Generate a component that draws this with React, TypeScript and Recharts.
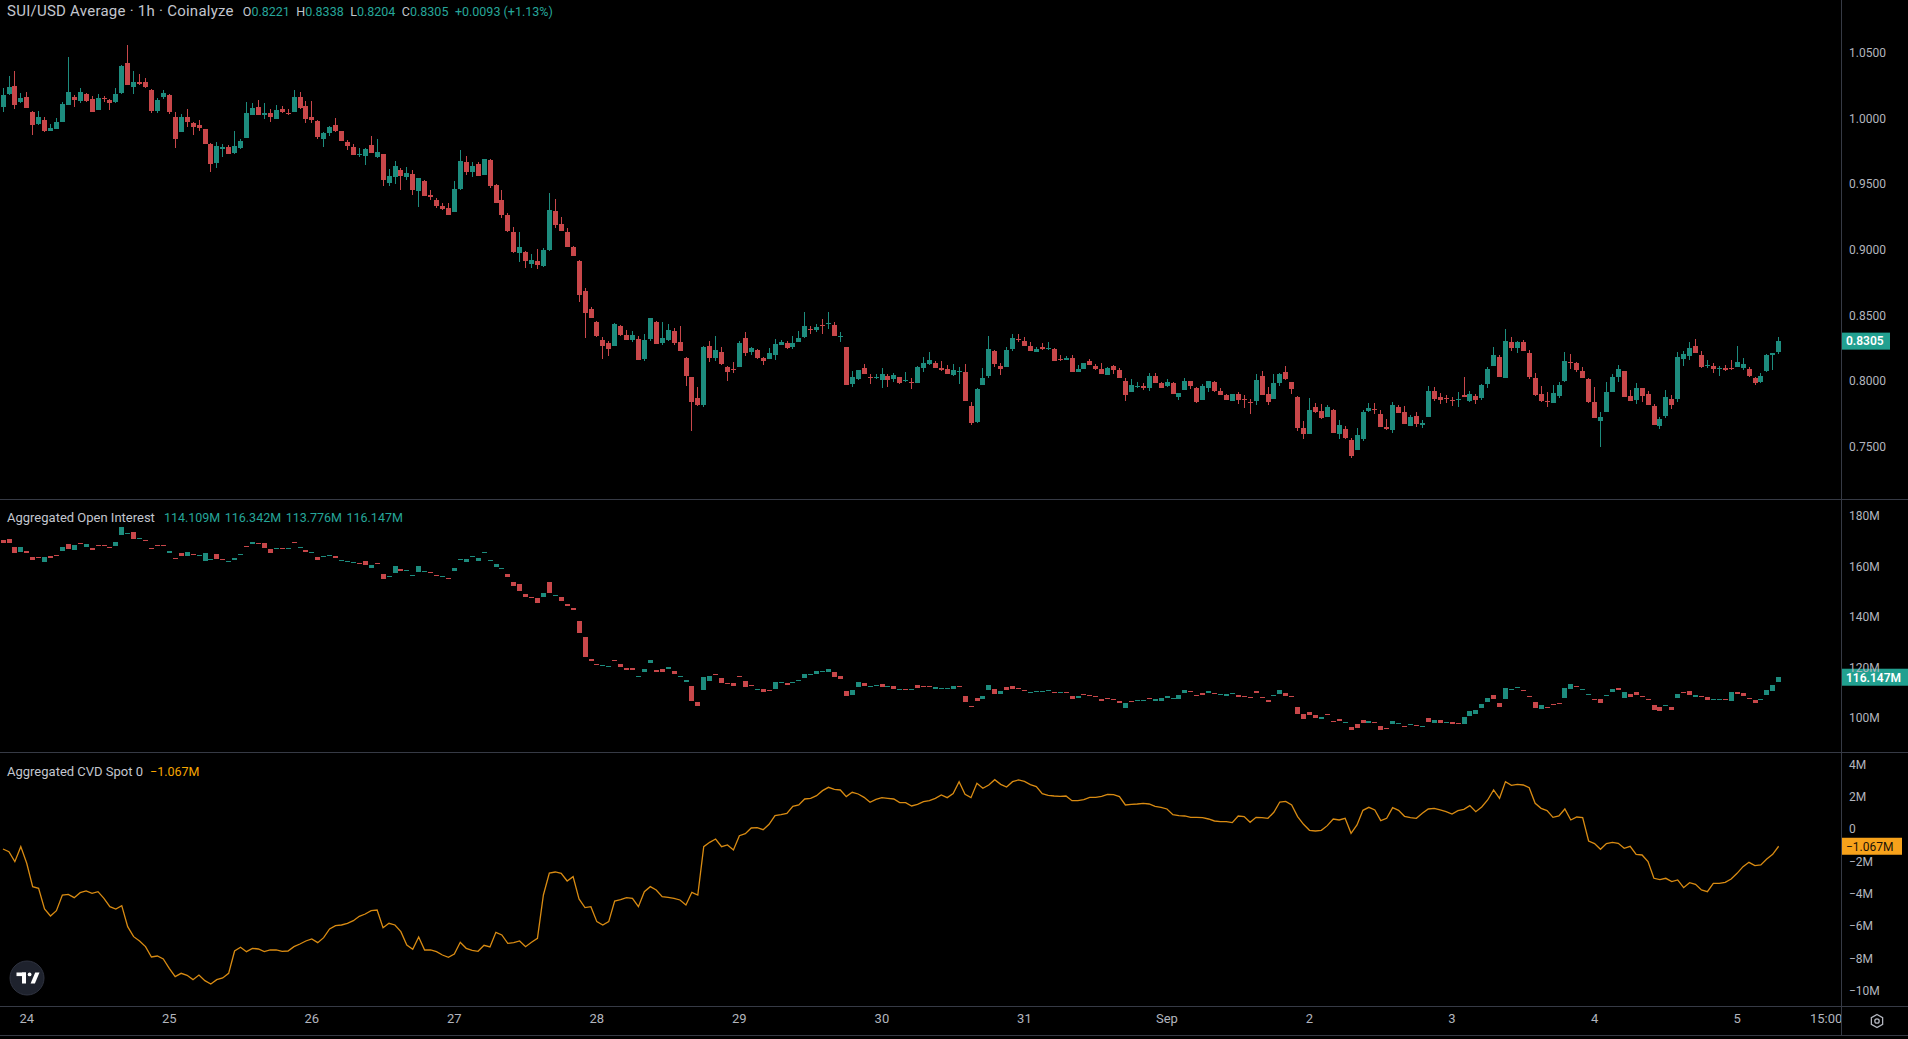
import React from 'react';
import { ComposedChart, Bar, Line, XAxis, YAxis, ReferenceLine } from 'recharts';

// ---------- data (hourly, starting Aug 23 2024 20:00 UTC) ----------
const priceOpen = [
  1.0088,1.0184,1.0245,1.0123,1.0161,1.0047,0.9958,0.9986,0.9905,0.9920,
  0.9973,1.0103,1.0164,1.0133,1.0184,1.0146,1.0065,1.0156,1.0138,1.0126,
  1.0194,1.0420,1.0240,1.0275,1.0275,1.0214,1.0057,1.0164,1.0176,1.0009,
  0.9897,1.0009,0.9963,0.9948,0.9918,0.9803,0.9659,0.9768,0.9781,0.9737,
  0.9776,0.9852,1.0027,1.0085,1.0027,1.0039,0.9996,1.0070,1.0042,1.0050,
  1.0161,1.0093,1.0009,0.9981,0.9844,0.9887,0.9946,0.9902,0.9819,0.9781,
  0.9722,0.9715,0.9796,0.9707,0.9727,0.9509,0.9552,0.9606,0.9555,0.9575,
  0.9446,0.9522,0.9413,0.9377,0.9332,0.9321,0.9288,0.9461,0.9666,0.9593,
  0.9651,0.9570,0.9682,0.9491,0.9377,0.9263,0.9134,0.8976,0.8981,0.8893,
  0.8913,0.8875,0.8997,0.9294,0.9195,0.9134,0.9020,0.8913,0.8685,0.8548,
  0.8451,0.8312,0.8289,0.8269,0.8418,0.8350,0.8314,0.8319,0.8167,0.8322,
  0.8449,0.8289,0.8314,0.8380,0.8299,0.8175,0.8030,0.7870,0.7820,0.8266,
  0.8177,0.8220,0.8106,0.8093,0.8109,0.8327,0.8223,0.8236,0.8175,0.8167,
  0.8200,0.8276,0.8289,0.8258,0.8299,0.8337,0.8401,0.8390,0.8426,0.8434,
  0.8426,0.8337,0.8258,0.7980,0.8017,0.8099,0.8030,0.8022,0.8010,0.8038,
  0.8017,0.8030,0.8002,0.7995,0.7987,0.8104,0.8129,0.8137,0.8099,0.8091,
  0.8048,0.8068,0.8068,0.7809,0.7690,0.7972,0.8040,0.8228,0.8114,0.8109,
  0.8246,0.8319,0.8304,0.8266,0.8223,0.8258,0.8243,0.8243,0.8167,0.8159,
  0.8175,0.8071,0.8093,0.8152,0.8114,0.8091,0.8048,0.8114,0.8083,0.8000,
  0.7918,0.7954,0.7962,0.7949,0.8038,0.7984,0.7964,0.7984,0.7880,0.7934,
  0.8000,0.7949,0.7857,0.7949,0.7992,0.7926,0.7895,0.7850,0.7901,0.7865,
  0.7845,0.7850,0.8038,0.7901,0.7865,0.7987,0.8068,0.7992,0.7878,0.7644,
  0.7599,0.7802,0.7771,0.7728,0.7779,0.7599,0.7637,0.7551,0.7477,0.7561,
  0.7771,0.7786,0.7749,0.7652,0.7629,0.7802,0.7764,0.7660,0.7733,0.7667,
  0.7728,0.7923,0.7878,0.7873,0.7857,0.7857,0.7895,0.7847,0.7885,0.7873,
  0.7980,0.8116,0.8182,0.8025,0.8299,0.8253,0.8299,0.8213,0.8022,0.7901,
  0.7850,0.7835,0.7888,0.8002,0.8144,0.8137,0.8076,0.8015,0.7840,0.7698,
  0.7766,0.7918,0.8033,0.8076,0.7885,0.7857,0.7946,0.7901,0.7809,0.7660,
  0.7736,0.7863,0.7865,0.8169,0.8192,0.8266,0.8197,0.8114,0.8114,0.8093,
  0.8099,0.8099,0.8109,0.8101,0.8091,0.8022,0.7995,0.8078,0.8200,0.8221,
];
const priceHigh = [
  1.0227,1.0321,1.0357,1.0189,1.0199,1.0055,1.0055,1.0006,0.9956,0.9999,
  1.0123,1.0466,1.0176,1.0230,1.0194,1.0169,1.0181,1.0171,1.0146,1.0230,
  1.0407,1.0557,1.0359,1.0336,1.0306,1.0222,1.0154,1.0212,1.0181,1.0045,
  1.0032,1.0070,0.9973,0.9986,0.9918,0.9809,0.9819,0.9803,0.9793,0.9902,
  0.9842,1.0123,1.0113,1.0138,1.0116,1.0067,1.0100,1.0093,1.0072,1.0214,
  1.0199,1.0131,1.0131,0.9989,0.9892,0.9940,0.9999,0.9902,0.9831,0.9803,
  0.9771,0.9776,0.9862,0.9842,0.9732,0.9613,0.9674,0.9621,0.9628,0.9606,
  0.9545,0.9529,0.9453,0.9390,0.9352,0.9352,0.9522,0.9758,0.9712,0.9666,
  0.9666,0.9689,0.9689,0.9499,0.9453,0.9278,0.9172,0.9134,0.8989,0.8969,
  0.9004,0.9012,0.9430,0.9385,0.9248,0.9164,0.9030,0.8923,0.8708,0.8565,
  0.8456,0.8334,0.8304,0.8446,0.8426,0.8388,0.8380,0.8342,0.8357,0.8479,
  0.8457,0.8449,0.8434,0.8403,0.8418,0.8182,0.8030,0.7954,0.8266,0.8304,
  0.8342,0.8258,0.8114,0.8144,0.8304,0.8372,0.8258,0.8243,0.8182,0.8251,
  0.8319,0.8312,0.8304,0.8342,0.8380,0.8525,0.8418,0.8434,0.8472,0.8525,
  0.8449,0.8372,0.8258,0.8076,0.8083,0.8129,0.8053,0.8053,0.8099,0.8053,
  0.8060,0.8030,0.8068,0.8025,0.8114,0.8182,0.8220,0.8152,0.8152,0.8121,
  0.8129,0.8106,0.8129,0.7840,0.7946,0.8099,0.8342,0.8236,0.8137,0.8258,
  0.8357,0.8357,0.8334,0.8299,0.8258,0.8289,0.8299,0.8251,0.8197,0.8190,
  0.8197,0.8121,0.8137,0.8167,0.8129,0.8137,0.8106,0.8121,0.8099,0.8022,
  0.8015,0.7992,0.7984,0.8060,0.8060,0.7992,0.8015,0.7992,0.7908,0.8022,
  0.8000,0.7957,0.7977,0.8000,0.8000,0.7946,0.7903,0.7901,0.7916,0.7895,
  0.7865,0.8053,0.8076,0.7954,0.8053,0.8060,0.8114,0.7992,0.7885,0.7695,
  0.7870,0.7832,0.7825,0.7817,0.7786,0.7703,0.7660,0.7566,0.7644,0.7779,
  0.7832,0.7832,0.7779,0.7710,0.7840,0.7817,0.7809,0.7741,0.7764,0.7703,
  0.7962,0.7954,0.7908,0.7893,0.7878,0.7916,0.8030,0.7923,0.7901,0.7977,
  0.8106,0.8258,0.8197,0.8396,0.8334,0.8304,0.8312,0.8236,0.8060,0.7962,
  0.7916,0.7969,0.7992,0.8220,0.8205,0.8144,0.8106,0.8022,0.7954,0.7764,
  0.7992,0.8053,0.8121,0.8076,0.7931,0.7984,0.7946,0.7923,0.7825,0.7726,
  0.7931,0.7893,0.8220,0.8228,0.8299,0.8319,0.8228,0.8159,0.8137,0.8114,
  0.8121,0.8159,0.8266,0.8175,0.8106,0.8030,0.8060,0.8205,0.8213,0.8338,
];
const priceLow = [
  1.0050,1.0176,1.0070,1.0118,1.0077,0.9872,0.9948,0.9897,0.9905,0.9920,
  0.9971,1.0103,1.0088,1.0118,1.0123,1.0050,1.0065,1.0123,1.0065,1.0113,
  1.0187,1.0252,1.0187,1.0255,1.0232,1.0042,1.0042,1.0148,1.0034,0.9776,
  0.9897,0.9930,0.9874,0.9905,0.9801,0.9593,0.9623,0.9707,0.9725,0.9732,
  0.9768,0.9852,1.0027,1.0027,0.9996,0.9973,0.9996,1.0042,1.0022,1.0045,
  1.0072,0.9961,0.9961,0.9844,0.9783,0.9864,0.9897,0.9829,0.9760,0.9722,
  0.9707,0.9646,0.9737,0.9699,0.9484,0.9484,0.9502,0.9453,0.9527,0.9415,
  0.9327,0.9410,0.9377,0.9319,0.9301,0.9266,0.9288,0.9456,0.9568,0.9555,
  0.9562,0.9570,0.9471,0.9357,0.9243,0.9134,0.8976,0.8908,0.8860,0.8862,
  0.8855,0.8870,0.8989,0.9167,0.9144,0.9022,0.8956,0.8604,0.8330,0.8482,
  0.8337,0.8167,0.8190,0.8269,0.8342,0.8314,0.8299,0.8162,0.8154,0.8307,
  0.8284,0.8276,0.8307,0.8276,0.8233,0.7964,0.7621,0.7812,0.7804,0.8147,
  0.8154,0.8121,0.8002,0.8063,0.8109,0.8192,0.8200,0.8169,0.8124,0.8167,
  0.8162,0.8276,0.8246,0.8246,0.8299,0.8330,0.8360,0.8375,0.8360,0.8396,
  0.8345,0.8299,0.7972,0.7957,0.8010,0.8055,0.7980,0.8017,0.7949,0.7957,
  0.7995,0.7980,0.7995,0.7941,0.7987,0.8071,0.8121,0.8104,0.8076,0.8055,
  0.8040,0.7980,0.7850,0.7667,0.7682,0.7972,0.8025,0.8109,0.8048,0.8109,
  0.8231,0.8299,0.8269,0.8231,0.8223,0.8238,0.8238,0.8154,0.8152,0.8159,
  0.8071,0.8071,0.8093,0.8124,0.8086,0.8055,0.8048,0.8055,0.8025,0.7850,
  0.7918,0.7946,0.7934,0.7926,0.7987,0.7949,0.7957,0.7903,0.7857,0.7934,
  0.7941,0.7835,0.7857,0.7918,0.7918,0.7895,0.7857,0.7850,0.7827,0.7797,
  0.7751,0.7820,0.7895,0.7820,0.7865,0.7964,0.8007,0.7903,0.7621,0.7561,
  0.7599,0.7759,0.7710,0.7728,0.7606,0.7561,0.7561,0.7416,0.7477,0.7546,
  0.7764,0.7751,0.7652,0.7629,0.7606,0.7759,0.7675,0.7660,0.7652,0.7644,
  0.7728,0.7850,0.7827,0.7835,0.7812,0.7804,0.7880,0.7842,0.7827,0.7857,
  0.7949,0.8116,0.8033,0.8025,0.8231,0.8215,0.8231,0.8017,0.7888,0.7842,
  0.7804,0.7835,0.7873,0.7995,0.8091,0.8071,0.8025,0.7835,0.7720,0.7500,
  0.7766,0.7918,0.7995,0.7880,0.7850,0.7827,0.7842,0.7820,0.7667,0.7637,
  0.7720,0.7789,0.7842,0.8116,0.8162,0.8215,0.8101,0.8101,0.8063,0.8040,
  0.8078,0.8086,0.8109,0.8086,0.8033,0.7972,0.7987,0.8071,0.8086,0.8204,
];
const priceClose = [
  1.0176,1.0237,1.0103,1.0154,1.0080,0.9951,1.0009,0.9905,0.9925,0.9971,
  1.0108,1.0199,1.0138,1.0199,1.0133,1.0050,1.0156,1.0148,1.0118,1.0184,
  1.0400,1.0255,1.0275,1.0260,1.0240,1.0057,1.0138,1.0192,1.0050,0.9844,
  1.0009,0.9973,0.9935,0.9925,0.9806,0.9654,0.9788,0.9778,0.9730,0.9786,
  0.9826,1.0039,1.0077,1.0027,1.0039,1.0011,1.0062,1.0047,1.0034,1.0161,
  1.0080,0.9996,0.9984,0.9859,0.9887,0.9933,0.9905,0.9829,0.9791,0.9722,
  0.9730,0.9765,0.9737,0.9743,0.9527,0.9560,0.9636,0.9560,0.9583,0.9453,
  0.9545,0.9410,0.9403,0.9334,0.9311,0.9266,0.9463,0.9674,0.9593,0.9636,
  0.9562,0.9689,0.9486,0.9357,0.9266,0.9144,0.8984,0.9020,0.8916,0.8921,
  0.8885,0.8997,0.9301,0.9190,0.9144,0.9022,0.8956,0.8657,0.8520,0.8482,
  0.8345,0.8269,0.8246,0.8434,0.8350,0.8314,0.8350,0.8162,0.8312,0.8479,
  0.8284,0.8327,0.8388,0.8291,0.8233,0.8040,0.7842,0.7820,0.8258,0.8177,
  0.8236,0.8129,0.8071,0.8086,0.8289,0.8215,0.8251,0.8177,0.8152,0.8213,
  0.8281,0.8299,0.8253,0.8289,0.8327,0.8418,0.8393,0.8411,0.8418,0.8441,
  0.8345,0.8345,0.7972,0.8030,0.8083,0.8055,0.8025,0.8030,0.8053,0.8010,
  0.8045,0.7987,0.8010,0.7987,0.8106,0.8137,0.8159,0.8104,0.8083,0.8055,
  0.8083,0.8076,0.7850,0.7682,0.7941,0.8022,0.8243,0.8132,0.8093,0.8236,
  0.8327,0.8312,0.8269,0.8231,0.8243,0.8243,0.8251,0.8154,0.8159,0.8175,
  0.8071,0.8091,0.8137,0.8124,0.8093,0.8055,0.8099,0.8086,0.8025,0.7895,
  0.7969,0.7962,0.7949,0.8038,0.7987,0.7949,0.7992,0.7903,0.7908,0.8000,
  0.7964,0.7842,0.7962,0.8000,0.7926,0.7895,0.7857,0.7901,0.7857,0.7857,
  0.7837,0.8007,0.7895,0.7842,0.7984,0.8053,0.8015,0.7941,0.7644,0.7599,
  0.7779,0.7764,0.7718,0.7802,0.7606,0.7665,0.7568,0.7431,0.7589,0.7764,
  0.7794,0.7779,0.7652,0.7637,0.7817,0.7759,0.7675,0.7726,0.7675,0.7680,
  0.7923,0.7865,0.7857,0.7865,0.7850,0.7865,0.7880,0.7901,0.7857,0.7969,
  0.8091,0.8197,0.8033,0.8304,0.8253,0.8299,0.8231,0.8033,0.7895,0.7850,
  0.7842,0.7908,0.7969,0.8152,0.8137,0.8086,0.8025,0.7842,0.7720,0.7726,
  0.7916,0.8030,0.8091,0.7880,0.7850,0.7946,0.7888,0.7820,0.7667,0.7710,
  0.7878,0.7820,0.8182,0.8205,0.8251,0.8215,0.8109,0.8121,0.8093,0.8101,
  0.8083,0.8091,0.8144,0.8129,0.8040,0.7987,0.8038,0.8197,0.8212,0.8305,
];
// Aggregated open interest, millions
const oiOpen = [
  170.5,170.9,167.9,165.7,166.3,163.8,163.8,161.9,164.0,164.6,
  166.3,168.9,166.5,169.4,167.9,167.5,168.7,168.4,167.6,168.1,
  172.6,173.0,173.7,170.8,170.4,167.2,168.7,168.5,165.2,163.5,
  165.5,164.0,165.1,164.3,162.3,162.7,165.1,163.1,162.0,162.6,
  164.4,168.0,168.8,169.2,169.2,166.8,166.8,167.5,167.1,169.7,
  167.5,166.5,165.4,163.6,164.0,164.3,164.2,162.3,161.9,161.3,
  161.4,162.3,159.5,161.3,157.2,155.9,157.6,159.0,158.1,156.2,
  158.0,158.0,158.0,156.5,156.0,155.4,158.4,162.7,161.8,163.8,
  162.3,165.5,162.0,159.9,159.1,157.2,154.0,153.1,149.1,148.1,
  147.7,147.8,154.0,148.5,147.9,145.0,143.4,138.4,132.2,123.4,
  121.5,120.5,120.3,123.0,121.4,119.7,119.7,116.2,118.36,121.92,
  119.15,119.55,119.28,118.75,116.38,114.40,112.68,106.35,111.10,114.79,
  117.57,115.85,114.00,113.74,116.77,114.66,113.21,111.36,111.36,111.10,
  111.63,114.00,114.00,114.00,114.79,115.98,117.17,117.57,118.49,118.36,
  118.23,116.64,110.70,109.25,112.15,113.74,112.55,112.81,113.61,112.42,
  112.68,111.36,111.63,110.97,113.08,112.81,112.81,111.36,111.63,111.36,
  111.63,112.68,108.72,104.89,107.93,107.67,111.23,111.49,109.65,112.42,
  112.68,111.76,111.10,110.04,110.44,110.44,110.83,110.17,110.04,110.31,
  108.85,108.06,109.65,109.25,108.72,107.67,107.93,107.67,106.61,104.10,
  106.87,106.74,107.01,108.06,106.87,106.87,107.93,107.40,107.67,110.04,
  110.70,109.25,110.04,110.04,110.04,109.25,108.59,109.65,109.25,108.72,
  108.46,110.83,108.46,107.27,108.85,109.51,110.04,108.85,104.37,101.59,
  102.52,101.20,99.74,101.59,98.95,99.48,97.90,96.58,97.63,99.35,
  98.16,98.56,96.97,95.92,97.50,97.50,96.84,97.10,97.10,96.58,
  100.01,97.90,99.22,98.16,98.43,98.16,97.50,100.93,101.72,103.97,
  106.48,109.12,106.08,107.67,111.10,111.76,111.23,108.72,106.48,103.71,
  104.50,105.55,106.08,108.06,111.63,112.68,111.23,109.00,107.53,107.40,
  108.59,110.31,111.89,108.06,109.51,110.31,108.72,107.53,105.03,104.50,
  104.63,104.37,108.06,110.44,110.70,108.33,108.72,108.19,107.14,107.14,
  107.53,106.87,110.44,110.04,108.06,107.14,107.01,109.25,110.83,114.109,
];
const oiClose = [
  169.4,169.2,165.5,167.9,165.3,162.7,163.5,163.8,163.5,164.3,
  167.9,166.9,168.5,169.0,168.9,166.7,168.4,168.1,167.2,169.6,
  175.5,173.4,171.0,171.2,170.0,166.9,168.4,168.1,166.0,163.2,
  164.3,165.7,164.8,164.7,165.5,163.0,162.8,162.8,162.3,163.5,
  165.1,167.7,169.8,168.8,167.5,165.5,167.5,167.1,167.3,169.4,
  167.9,165.6,165.9,162.6,164.2,164.7,163.4,162.7,162.3,161.6,
  160.9,160.7,160.7,160.9,155.0,156.3,160.2,158.1,158.5,156.6,
  160.2,158.4,157.6,156.1,156.4,155.1,159.4,163.1,163.1,164.2,
  163.4,165.7,162.4,161.0,159.5,155.7,152.3,150.3,147.8,147.7,
  145.7,149.5,149.4,148.9,146.5,144.5,142.6,133.5,124.3,122.6,
  121.0,120.9,120.7,122.6,120.3,118.9,118.9,116.6,119.55,122.98,
  118.36,118.36,120.34,117.57,116.77,115.19,106.87,104.89,116.25,116.64,
  117.17,114.00,113.61,112.81,116.38,112.42,112.55,111.63,110.31,110.83,
  114.27,114.27,113.21,114.40,115.19,117.57,117.57,118.49,118.75,119.41,
  116.38,115.46,108.72,111.10,114.40,112.68,112.81,113.08,112.29,112.68,
  111.49,111.63,111.23,111.36,111.89,112.42,112.42,112.15,112.02,111.76,
  112.68,112.15,106.48,104.50,106.87,108.85,113.08,109.65,110.83,111.23,
  111.49,111.36,110.70,110.44,110.83,110.83,111.23,109.78,110.44,110.04,
  107.67,108.85,109.38,108.99,108.33,106.87,107.53,107.27,105.82,105.95,
  106.48,107.14,107.27,107.67,107.67,108.06,108.85,107.80,109.12,111.23,
  110.44,108.85,109.25,110.83,109.65,109.65,109.38,110.04,108.46,108.33,
  108.06,109.91,108.06,106.48,109.25,111.10,108.85,108.46,101.72,99.61,
  101.07,100.14,100.54,101.07,98.56,98.95,98.29,95.39,96.18,98.16,
  98.95,98.29,95.39,95.52,98.82,97.90,96.44,97.50,96.71,96.97,
  98.56,99.22,98.16,98.56,97.76,97.76,100.54,102.78,103.05,105.55,
  107.93,107.53,104.37,111.89,111.36,112.15,110.83,108.33,104.10,105.16,
  104.10,105.16,105.69,111.89,113.34,112.29,111.63,109.38,107.14,105.95,
  108.99,111.36,110.97,110.17,108.33,109.12,108.33,107.14,103.18,102.91,
  105.03,103.31,109.51,110.04,109.25,109.25,108.33,107.14,107.53,107.53,
  107.14,110.31,109.38,108.85,107.67,106.08,107.40,111.10,113.08,116.147,
];
// Aggregated CVD spot, millions
const cvdValues = [
  -1.236,-1.400,-2.018,-1.091,-2.121,-3.564,-3.667,-4.944,-5.376,-5.047,
  -4.079,-4.037,-4.244,-3.935,-3.831,-3.975,-3.873,-4.285,-4.800,-4.944,
  -4.738,-6.036,-6.654,-6.922,-7.272,-7.911,-7.849,-8.034,-8.611,-9.126,
  -8.920,-9.044,-9.311,-9.023,-9.373,-9.579,-9.311,-9.208,-8.920,-7.540,
  -7.313,-7.581,-7.375,-7.416,-7.581,-7.478,-7.478,-7.560,-7.540,-7.272,
  -7.107,-6.922,-6.798,-7.025,-6.716,-6.180,-5.974,-5.933,-5.830,-5.665,
  -5.397,-5.253,-5.047,-5.006,-6.098,-5.830,-5.933,-6.345,-7.169,-7.437,
  -6.674,-7.478,-7.478,-7.581,-7.787,-7.931,-7.725,-7.004,-7.375,-7.499,
  -7.560,-7.190,-7.293,-6.386,-6.551,-7.066,-7.025,-6.922,-7.272,-7.004,
  -6.757,-4.079,-2.719,-2.657,-2.739,-3.213,-2.945,-4.326,-4.861,-4.800,
  -5.727,-5.933,-5.727,-4.450,-4.367,-4.244,-4.285,-4.800,-3.873,-3.564,
  -3.770,-4.182,-4.223,-4.285,-4.388,-4.697,-3.914,-4.079,-1.091,-0.824,
  -0.618,-1.091,-0.988,-1.297,-0.412,-0.288,0.062,0.083,-0.041,0.289,
  0.824,0.886,0.969,1.401,1.484,1.855,1.896,2.061,2.370,2.576,
  2.452,2.411,2.000,2.267,2.164,1.958,1.649,1.834,1.937,1.896,
  1.855,1.628,1.628,1.422,1.525,1.690,1.752,1.896,2.102,1.937,
  2.184,2.926,2.143,1.937,2.823,2.514,2.720,3.049,2.761,2.596,
  2.926,3.029,2.947,2.740,2.617,2.184,2.081,2.040,2.019,2.040,
  1.752,1.752,1.813,1.958,1.958,2.019,2.143,2.123,2.000,1.484,
  1.525,1.546,1.587,1.546,1.401,1.340,1.237,0.886,0.824,0.804,
  0.721,0.721,0.701,0.618,0.495,0.454,0.454,0.392,0.804,0.763,
  0.413,0.721,0.701,0.660,1.030,1.669,1.710,1.484,0.763,0.289,
  -0.082,-0.123,-0.082,0.207,0.618,0.557,0.660,-0.267,0.248,1.154,
  1.340,1.175,0.516,0.660,1.319,1.154,0.783,0.701,0.660,0.969,
  1.237,1.278,1.175,1.072,0.928,1.134,1.216,1.443,1.072,1.360,
  1.793,2.411,1.896,2.926,2.699,2.761,2.720,2.555,1.587,1.278,
  1.134,0.721,0.804,1.237,0.557,0.742,0.701,-0.741,-0.906,-1.256,
  -0.906,-0.824,-0.885,-1.194,-1.071,-1.565,-1.606,-2.018,-3.048,-3.131,
  -3.048,-3.254,-3.151,-3.625,-3.316,-3.419,-3.770,-3.873,-3.358,-3.358,
  -3.296,-3.090,-2.739,-2.327,-2.060,-2.266,-2.224,-1.854,-1.565,-1.067,
];

const priceTicks = [0.75, 0.8, 0.85, 0.9, 0.95, 1.0, 1.05];
const oiTicks = [100, 120, 140, 160, 180];
const cvdTicks = [-10, -8, -6, -4, -2, 0, 2, 4];
const timeTickSlots = ['8-24 0:00','8-25 0:00','8-26 0:00','8-27 0:00','8-28 0:00','8-29 0:00','8-30 0:00','8-31 0:00','9-1 0:00','9-2 0:00','9-3 0:00','9-4 0:00','9-5 0:00','9-5 15:00'];
const timeTickLabels = ['24','25','26','27','28','29','30','31','Sep','2','3','4','5','15:00'];
const oiLegendValues = ['114.109M', '116.342M', '113.776M', '116.147M'];
const priceChangeText = '+0.0093 (+1.13%)';

const START_UTC = Date.UTC(2024, 7, 23, 20);
const HOUR_MS = 3600000;
const SLOT_COUNT = 310; // 300 candles + empty space on the right of the time scale

// ---------- styling ----------
const FONT = 'Roboto, "Noto Sans", "DejaVu Sans", sans-serif';
const W = 1908;
const AXIS_W = 67;
const UP = '#1d8c7e';
const DOWN = '#c8474a';
const TEAL_TEXT = '#26a69a';
const TEXT = '#c3c6ce';
const AXIS_TEXT = '#b2b5be';
const SEP = '#363a45';
const CVD_COLOR = '#d98b12';
const CVD_TAG = '#f7a21b';

const rows = Array.from({ length: SLOT_COUNT }, (_, i) => {
  const d = new Date(START_UTC + i * HOUR_MS);
  const t = `${d.getUTCMonth() + 1}-${d.getUTCDate()} ${d.getUTCHours()}:00`;
  if (i >= priceOpen.length) return { t } as any;
  return {
    t,
    o: priceOpen[i], h: priceHigh[i], l: priceLow[i], c: priceClose[i],
    priceRange: [priceLow[i], priceHigh[i]],
    oiO: oiOpen[i], oiC: oiClose[i],
    oiRange: [Math.min(oiOpen[i], oiClose[i]), Math.max(oiOpen[i], oiClose[i])],
    cvd: cvdValues[i],
  } as any;
});

const last = priceOpen.length - 1;
const fmtM = (v: number, digits = 3) => (v < 0 ? '\u2212' : '') + Math.abs(v).toFixed(digits) + 'M';

function PriceCandle(props: any) {
  const { x, y, width, height, payload } = props;
  if (!payload || payload.o == null || !isFinite(y) || !isFinite(height)) return null;
  const { o, h, l, c } = payload;
  const span = h - l;
  const k = span > 0 ? height / span : 0;
  const py = (v: number) => y + (h - v) * k;
  const cx = Math.floor(x + width / 2);
  const top = Math.round(Math.min(py(o), py(c)));
  const bot = Math.round(Math.max(py(o), py(c)));
  const color = c >= o ? UP : DOWN;
  const wy = Math.round(y);
  const wh = Math.max(1, Math.round(y + height) - wy);
  return (
    <g shapeRendering="crispEdges">
      <rect x={cx} y={wy} width={1} height={wh} fill={color} />
      <rect x={cx - 2} y={top} width={5} height={Math.max(1, bot - top)} fill={color} />
    </g>
  );
}

function OiCandle(props: any) {
  const { x, y, width, height, payload } = props;
  if (!payload || payload.oiO == null || !isFinite(y) || !isFinite(height)) return null;
  const color = payload.oiC >= payload.oiO ? UP : DOWN;
  const cx = Math.floor(x + width / 2);
  const top = Math.round(y);
  const bot = Math.round(y + height);
  return (
    <rect shapeRendering="crispEdges" x={cx - 2} y={top} width={5} height={Math.max(1, bot - top)} fill={color} />
  );
}

function ValueTag(props: any) {
  const { viewBox, text, bg, fg, w, bold } = props;
  if (!viewBox) return null;
  const x = viewBox.x + viewBox.width;
  const y = viewBox.y;
  return (
    <g>
      <rect x={x} y={y - 8.5} width={w} height={17} fill={bg} />
      <text x={x + 5} y={y} dy="0.36em" fill={fg} fontSize={12} fontFamily={FONT} fontWeight={bold ? 600 : 400}>
        {text}
      </text>
    </g>
  );
}

const yAxisCommon = {
  orientation: 'right' as const,
  width: AXIS_W,
  type: 'number' as const,
  allowDataOverflow: true,
  interval: 0 as const,
  axisLine: false,
  tickLine: false,
  tickSize: 0,
  tickMargin: 8,
  tick: { fill: AXIS_TEXT, fontSize: 12, fontFamily: FONT },
};

function Legend() {
  const pair = (k: string, v: string) => (
    <span style={{ marginLeft: 6.5 }}>
      <span style={{ color: TEXT }}>{k}</span>
      <span style={{ color: TEAL_TEXT }}>{v}</span>
    </span>
  );
  return (
    <>
      <div style={{ position: 'absolute', left: 7, top: 2, height: 18, lineHeight: '18px', whiteSpace: 'nowrap', color: TEXT }}>
        <span style={{ fontSize: 15, letterSpacing: 0.25 }}>SUI/USD Average · 1h · Coinalyze</span>
        <span style={{ fontSize: 12.5, marginLeft: 2.5 }}>
          {pair('O', priceOpen[last].toFixed(4))}
          {pair('H', priceHigh[last].toFixed(4))}
          {pair('L', priceLow[last].toFixed(4))}
          {pair('C', priceClose[last].toFixed(4))}
          <span style={{ marginLeft: 6.5, color: TEAL_TEXT }}>{priceChangeText}</span>
        </span>
      </div>
      <div style={{ position: 'absolute', left: 7, top: 508, height: 18, lineHeight: '18px', whiteSpace: 'nowrap' }}>
        <span style={{ fontSize: 13, color: TEXT }}>Aggregated Open Interest</span>
        {oiLegendValues.map((v, i) => (
          <span key={i} style={{ fontSize: 12.5, color: TEAL_TEXT, marginLeft: i === 0 ? 9 : 4.5 }}>{v}</span>
        ))}
      </div>
      <div style={{ position: 'absolute', left: 7, top: 762, height: 18, lineHeight: '18px', whiteSpace: 'nowrap' }}>
        <span style={{ fontSize: 13, color: TEXT }}>Aggregated CVD Spot 0</span>
        <span style={{ fontSize: 12.5, color: '#f7a600', marginLeft: 7 }}>{fmtM(cvdValues[last])}</span>
      </div>
    </>
  );
}

function Chrome() {
  const hx = 1877, hy = 1021, hr = 6.5;
  const hex = [-90, -30, 30, 90, 150, 210]
    .map((a) => `${hx + hr * Math.cos((a * Math.PI) / 180)},${hy + hr * Math.sin((a * Math.PI) / 180)}`)
    .join(' ');
  return (
    <svg width={W} height={1039} style={{ position: 'absolute', left: 0, top: 0, pointerEvents: 'none' }}>
      <g shapeRendering="crispEdges">
        <rect x={0} y={499} width={W} height={1} fill={SEP} />
        <rect x={0} y={752} width={W} height={1} fill={SEP} />
        <rect x={0} y={1006} width={W} height={1} fill={SEP} />
        <rect x={0} y={1035} width={W} height={1} fill={SEP} />
        <rect x={1841} y={0} width={1} height={1036} fill={SEP} />
      </g>
      <circle cx={27} cy={978} r={17} fill="#1e222d" stroke="#2f3340" strokeWidth={1} />
      <g fill="#ffffff">
        <rect x={16.5} y={972.5} width={9.5} height={3.6} />
        <rect x={22} y={972.5} width={4} height={11} />
        <circle cx={29.6} cy={974.4} r={1.9} />
        <polygon points="30.6,983.5 35.2,972.5 39.5,972.5 34.9,983.5" />
      </g>
      <polygon points={hex} fill="none" stroke={AXIS_TEXT} strokeWidth={1.3} />
      <circle cx={hx} cy={hy} r={2.2} fill="none" stroke={AXIS_TEXT} strokeWidth={1.3} />
    </svg>
  );
}

export default function App() {
  return (
    <div style={{ position: 'absolute', left: 0, top: 0, width: W, height: 1039, background: '#000', overflow: 'hidden', fontFamily: FONT }}>
      <div style={{ position: 'absolute', left: 0, top: 0 }}>
        <ComposedChart width={W} height={499} data={rows} margin={{ top: 0, right: 0, bottom: 0, left: 0 }}>
          <XAxis dataKey="t" hide scale="band" />
          <YAxis {...yAxisCommon} domain={[0.71043, 1.08995]} ticks={priceTicks} tickFormatter={(v: number) => v.toFixed(4)} />
          <Bar dataKey="priceRange" shape={(p: any) => <PriceCandle {...p} />} isAnimationActive={false} />
          <ReferenceLine
            y={priceClose[last]}
            stroke="none"
            ifOverflow="visible"
            label={<ValueTag text={priceClose[last].toFixed(4)} bg="#22a090" fg="#ffffff" w={49} bold />}
          />
        </ComposedChart>
      </div>
      <div style={{ position: 'absolute', left: 0, top: 500 }}>
        <ComposedChart width={W} height={252} data={rows} margin={{ top: 0, right: 0, bottom: 0, left: 0 }}>
          <XAxis dataKey="t" hide scale="band" />
          <YAxis {...yAxisCommon} domain={[86.53, 186.34]} ticks={oiTicks} tickFormatter={(v: number) => `${v}M`} />
          <Bar dataKey="oiRange" shape={(p: any) => <OiCandle {...p} />} isAnimationActive={false} />
          <ReferenceLine
            y={oiClose[last]}
            stroke="none"
            ifOverflow="visible"
            label={<ValueTag text={fmtM(oiClose[last])} bg="#22a090" fg="#ffffff" w={67} bold />}
          />
        </ComposedChart>
      </div>
      <div style={{ position: 'absolute', left: 0, top: 753 }}>
        <ComposedChart width={W} height={282} data={rows} margin={{ top: 0, right: 0, bottom: 0, left: 0 }}>
          <XAxis
            dataKey="t"
            scale="band"
            height={29}
            ticks={timeTickSlots}
            interval={0}
            tickFormatter={(v: string) => timeTickLabels[timeTickSlots.indexOf(v)] ?? ''}
            axisLine={false}
            tickLine={false}
            tickSize={0}
            tickMargin={8}
            tick={{ fill: AXIS_TEXT, fontSize: 13, fontFamily: FONT }}
          />
          <YAxis
            {...yAxisCommon}
            domain={[-10.94, 4.697]}
            ticks={cvdTicks}
            tickFormatter={(v: number) => (v === 0 ? '0' : (v < 0 ? '\u2212' : '') + Math.abs(v) + 'M')}
          />
          <Line dataKey="cvd" type="linear" stroke={CVD_COLOR} strokeWidth={1.3} dot={false} activeDot={false} isAnimationActive={false} />
          <ReferenceLine
            y={cvdValues[last]}
            stroke="none"
            ifOverflow="visible"
            label={<ValueTag text={fmtM(cvdValues[last])} bg={CVD_TAG} fg="#1a1208" w={61} />}
          />
        </ComposedChart>
      </div>
      <Legend />
      <Chrome />
    </div>
  );
}
